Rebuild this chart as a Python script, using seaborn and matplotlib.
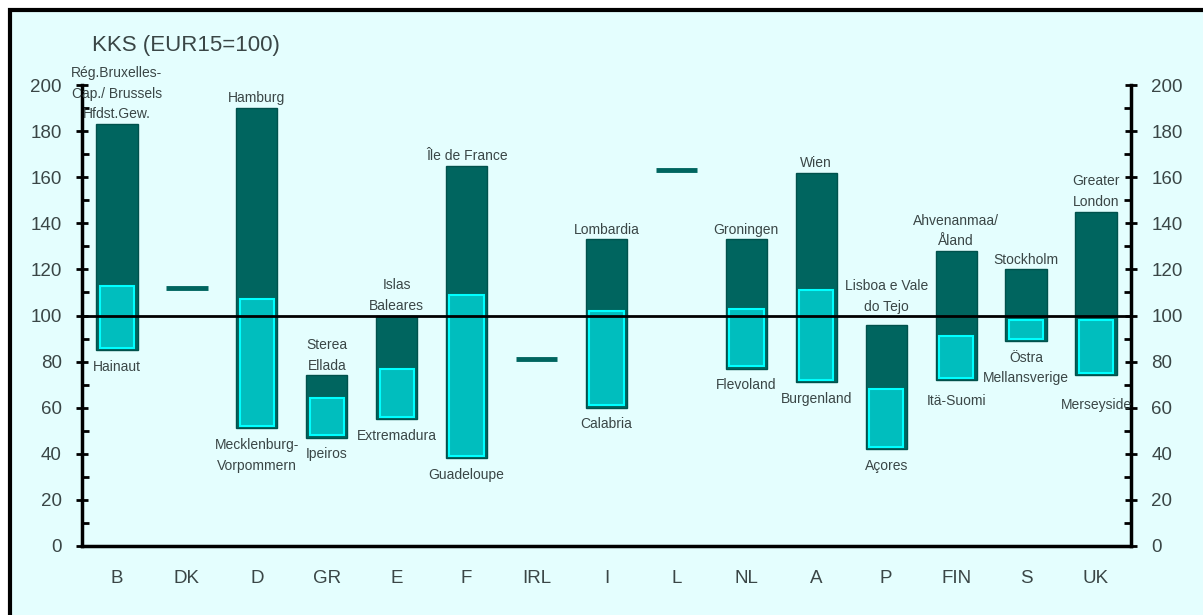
import numpy as np
import pandas as pd
import matplotlib.pyplot as plt
from matplotlib.patches import Rectangle
import seaborn as sns

# Regional GDP per head, KKS (EUR15=100): highest region, lowest region, national average
countries = ["B", "DK", "D", "GR", "E", "F", "IRL", "I", "L", "NL", "A", "P", "FIN", "S", "UK"]
region_max = [183, np.nan, 190, 74, 100, 165, np.nan, 133, np.nan, 133, 162, 96, 128, 120, 145]
region_min = [85, np.nan, 51, 47, 55, 38, np.nan, 60, np.nan, 77, 71, 42, 72, 89, 74]
national = [113, 112, 107, 64, 77, 109, 81, 102, 163, 103, 111, 68, 91, 98, 98]

top_names = ["Rég.Bruxelles-\nCap./ Brussels\nHfdst.Gew.", "", "Hamburg", "Sterea\nEllada",
             "Islas\nBaleares", "Île de France", "", "Lombardia", "", "Groningen", "Wien",
             "Lisboa e Vale\ndo Tejo", "Ahvenanmaa/\nÅland", "Stockholm", "Greater\nLondon"]
bottom_names = ["Hainaut", "", "Mecklenburg-\nVorpommern", "Ipeiros", "Extremadura", "Guadeloupe",
                "", "Calabria", "", "Flevoland", "Burgenland", "Açores", "Itä-Suomi",
                "Östra\nMellansverige", "Merseyside"]

bg = "#E4FEFE"
dark = "#00655F"
light = "#00BEBE"
light_edge = "#00FFFF"
txt = "#3A4646"

sns.set_style("ticks")
plt.rcParams['font.family'] = ['Liberation Sans', 'DejaVu Sans']

df = pd.DataFrame({"country": countries, "max": region_max, "min": region_min, "nat": national})
rng = df.dropna().copy()
rng["span"] = rng["max"] - rng["min"]
rng["inner"] = rng["nat"] - rng["min"] - 1
single = df[df["max"].isna()]

fig = plt.figure(figsize=(12.03, 6.15), dpi=100, facecolor="white")
# light background panel with black top/left frame
fig.patches.append(Rectangle((10 / 1203, -0.2), 1.2, 1.2 - 10 / 615, transform=fig.transFigure,
                             facecolor=bg, edgecolor="black", linewidth=3, zorder=-10))
ax = fig.add_axes([82 / 1203, 69 / 615, 1049 / 1203, 461 / 615])
ax.set_facecolor("none")

sns.barplot(data=rng, x="country", y="span", order=countries, bottom=rng["min"].values,
            width=0.59, color=dark, saturation=1, edgecolor="#00514C", linewidth=1, ax=ax, zorder=2)
sns.barplot(data=rng, x="country", y="inner", order=countries, bottom=rng["min"].values + 1,
            width=0.49, color=light, saturation=1, edgecolor=light_edge, linewidth=1.5, ax=ax, zorder=3)

# countries with a single region: short line at the national level
for c, v in zip(single["country"], single["nat"]):
    i = countries.index(c)
    ax.hlines(v, i - 0.295, i + 0.295, color=dark, linewidth=3.5, zorder=3)

ax.axhline(100, color="black", linewidth=2, zorder=4)

# a few labels sit a little further from their bar to stay clear of neighbours
extra_top = {"P": 6}
extra_bottom = {"UK": 9, "FIN": 3}
for i, c in enumerate(countries):
    if top_names[i]:
        ax.annotate(top_names[i], xy=(i, region_max[i]), xytext=(0, 2 + extra_top.get(c, 0)),
                    textcoords="offset points", ha="center", va="bottom", fontsize=10,
                    color=txt, linespacing=1.6, zorder=5)
    if bottom_names[i]:
        ax.annotate(bottom_names[i], xy=(i, region_min[i]), xytext=(0, -7 - extra_bottom.get(c, 0)),
                    textcoords="offset points", ha="center", va="top", fontsize=10,
                    color=txt, linespacing=1.6, zorder=5)

ax.set_xlim(-0.5, 14.5)
ax.set_ylim(0, 200)
ax.set_yticks(np.arange(0, 201, 20))
ax.set_yticks(np.arange(10, 200, 20), minor=True)
ax.set_xlabel("")
ax.set_ylabel("")
ax.tick_params(axis="y", which="major", direction="inout", length=9, width=2, color="black",
               left=True, right=True, labelleft=True, labelright=True, labelsize=13.5,
               labelcolor=txt, pad=10)
ax.tick_params(axis="y", which="minor", direction="in", length=5, width=2, color="black",
               left=True, right=True)
ax.tick_params(axis="x", length=0, pad=17, labelsize=13.5, labelcolor=txt)

for s in ["left", "right", "bottom"]:
    ax.spines[s].set_visible(True)
    ax.spines[s].set_linewidth(2.5)
    ax.spines[s].set_color("black")
ax.spines["top"].set_visible(False)

fig.text(92 / 1203, 1 - 45 / 615, "KKS (EUR15=100)", fontsize=16, color=txt, va="center", ha="left")

fig.savefig("out.png", dpi=100, facecolor=fig.get_facecolor())
